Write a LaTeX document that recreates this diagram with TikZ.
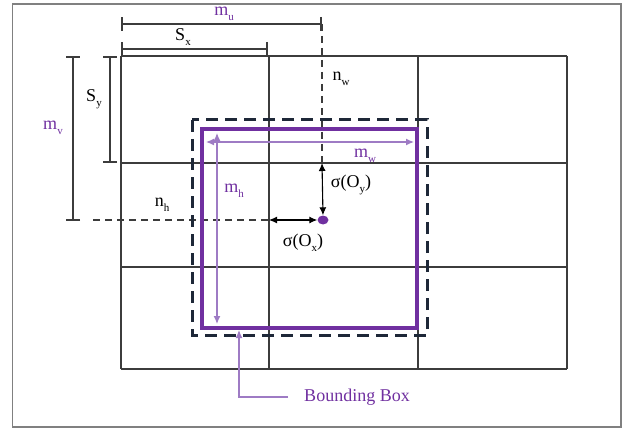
\documentclass[tikz,border=0pt]{standalone}
\usepackage{fontspec}
\setmainfont{Liberation Serif}
\usetikzlibrary{arrows.meta,shapes.geometric}
\definecolor{boxpurple}{HTML}{7030A0}
\definecolor{lightpurple}{HTML}{9E7BC4}
\definecolor{navy}{HTML}{1E2838}
\definecolor{gridgray}{HTML}{3C3C3C}
\newcommand{\lowsub}[1]{\raisebox{-5pt}{\fontsize{11}{12}\selectfont #1}}
\tikzset{
  gridline/.style={gridgray, line width=1.8pt},
  dimbar/.style={{Bar[width=14pt]}-{Bar[width=14pt]}, gridgray, line width=2.2pt},
  guide/.style={gridgray, line width=2pt, dash pattern=on 7pt off 5pt},
  sigmaarrow/.style={{Latex[length=8pt,width=7pt]}-{Latex[length=8pt,width=7pt]}, black, line width=1.1pt},
  measure/.style={lightpurple, line width=1.3pt, {Latex[length=8pt,width=7pt]}-{Latex[length=8pt,width=7pt]}},
  lbl/.style={font=\fontsize{18}{21}\selectfont, inner sep=1pt},
  plbl/.style={lbl, text=boxpurple},
}
\begin{document}
\begin{tikzpicture}[x=1pt,y=-1pt]
\useasboundingbox (0,0) rectangle (622,428);
\draw[gray, line width=1.5pt] (12.5,4) rectangle (621,427);
\foreach \x in {121,269,418,567}
  \draw[gridline] (\x,56) -- (\x,369);
\foreach \y in {56,163,267,369}
  \draw[gridline] (121,\y) -- (567,\y);
\coordinate (mu-l) at (121,24);
\coordinate (mu-r) at (322,24);
\coordinate (sx-l) at (121,49);
\coordinate (sx-r) at (268,49);
\coordinate (sy-t) at (110,56);
\coordinate (sy-b) at (110,163);
\coordinate (mv-t) at (73,56);
\coordinate (mv-b) at (73,221);
\coordinate (row-hit) at (322,163);
\coordinate (col-hit) at (269,220);
\coordinate (nh-start) at (93,220);
\node[ellipse, fill=boxpurple, minimum width=11pt, minimum height=9pt, inner sep=0pt] (centre) at (323,220) {};
\draw[dimbar] (mu-l) -- (mu-r);
\draw[dimbar] (sx-l) -- (sx-r);
\draw[dimbar] (sy-t) -- (sy-b);
\draw[dimbar] (mv-t) -- (mv-b);
\draw[guide] (mu-r) -- (row-hit);
\draw[guide] (nh-start) -- (col-hit);
\draw[sigmaarrow] (row-hit) -- (centre.north);
\draw[sigmaarrow] (col-hit) -- (centre.west);
\draw[navy, line width=3pt, dash pattern=on 12pt off 7pt] (192,120) rectangle (427,335);
\draw[boxpurple, line width=3.6pt] (202,129) rectangle (417,328);
\coordinate (mw-l) at (206,142);
\coordinate (mw-r) at (414,142);
\coordinate (mh-t) at (217,133);
\coordinate (mh-b) at (217,324);
\draw[measure] (mw-l) -- (mw-r);
\draw[measure] (mh-t) -- (mh-b);
\node[plbl] (bb) at (357,397) {Bounding Box};
\coordinate (bb-tip) at (239,330);
\draw[lightpurple, line width=1.3pt, -{Latex[length=8pt,width=7pt]}] ([xshift=-15pt]bb.west) -| (bb-tip);
\node[plbl] (mu) at (224,14) {m\lowsub{u}};
\node[lbl] (sx) at (183,37) {S\lowsub{x}};
\node[lbl] (sy) at (94,99) {S\lowsub{y}};
\node[plbl] (mv) at (53,128) {m\lowsub{v}};
\node[lbl] (nw) at (341,79) {n\lowsub{w}};
\node[lbl] (nh) at (162,205) {n\lowsub{h}};
\node[plbl] (mw) at (365,156) {m\lowsub{w}};
\node[plbl] (mh) at (234,191) {m\lowsub{h}};
\node[lbl] (sigy) at (351,185) {σ(O\lowsub{y})};
\node[lbl] (sigx) at (303,243) {σ(O\lowsub{x})};
\end{tikzpicture}
\end{document}
